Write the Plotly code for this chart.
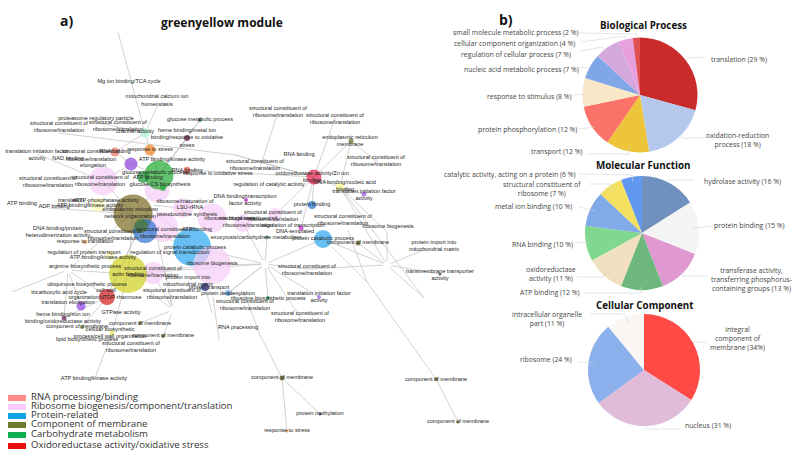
import plotly.graph_objects as go

W, H = 800, 461

# ---------- network: nodes ----------
node_id = ["pk1","pk2","pk3","pk4","pk5","lb","pk7","pk8","ol","gl","gd","gs","bl","pk6","yo","rd","pu","or","sa","mint",
           "yp","yp2","pur2","cr","ma","mag","dpu","dg","pk9","ol2","pk10","pk11","pk12","ye","pur3","bl2","lb2","pk13","mag2","ol3",
           "dk","g2","g3","pur4","pk14","pk15","ol4","nv","or2","ol5","ol6","nv2","lb3","mar","ol7","ol8","ye2","ol9","or3","g4","red2","sa2","sa3"]
node_x = [103,157,212,183,163,192,153,275,133,159,143,163,145,212,128,107,131,150,187,145,
          98,110,81,314,187,246,74,200,376,351,335,260,299,340,364,312,228,243,301,358,
          440,267,268,319,300,307,282,320,287,436,458,205,323,64,82,140,112,163,85,141,238,115,187]
node_y = [181,190,218,208,227,247,273,215,214,175,177,188,231,265,274,297,164,150,170,133,
          205,256,306,177,138,200,200,120,161,141,118,168,155,187,194,205,293,223,228,243,
          274,237,298,297,317,269,378,414,431,379,422,287,239,318,327,323,333,336,242,226,328,152,171]
node_size = [29,25,29,20,30,38,22,14,39,29,12,6,24,38,38,16,13,11,7,10,
             14,10,9,15,6,4,3,4,5,5,3,3,2,8,5,8,6,18,5,5,
             3,3,4,4,2,3,5,3,3,4,3,8,18,5,4,4,5,4,4,14,2,9,7]
node_color = ["#f7cdf7","#f7cdf7","#f7cdf7","#f7cdf7","#f7cdf7","#2aa5f0","#f7cdf7","#f7cdf7","#7a6a20","#1fa82f","#178a30","#1fa82f","#2a70d0","#f7cdf7","#cfcf20","#d61a1a","#8a3fd8","#f5821f","#f07a70","#b0f5d8",
              "#fbfbb5","#fbfbb5","#9040e8","#e8204c","#5a0a3a","#b010b0","#6a20a0","#0e7a44","#f7dcf7","#6a6a20","#f7dcf7","#f7dcf7","#e07070","#ffff90","#9955e6","#1a70d0","#50a0f0","#f7cdf7","#d020d0","#5a5a18",
              "#103040","#108040","#108040","#9955e6","#f7dcf7","#f7dcf7","#5a5a18","#14307a","#f5821f","#5a5a18","#5a5a18","#1a1a80","#2aa5f0","#6a1a50","#5a5a18","#5a5a18","#f0f050","#5a5a18","#f5821f","#4f7a30","#e07070","#f07060","#f07a70"]

# ---------- network: unlabelled junctions ----------
hub_id = ["H1","H2","HC","HL","HB","J1","J2","J3","J4","J5","J6","J7","J8","J9","J10","J11","J12","J13","J14","J15","J16","J17","J18","J19","J20","J21","J22","J23","J24","J25"]
hub_x = [265,387,150,68,173,118,157,96,59,12,95,212,219,367,424,426,277,260,37,49,232,332,348,213,245,387,147,170,235,170]
hub_y = [264,265,205,270,310,32,107,122,133,292,378,313,340,282,298,249,115,335,154,208,157,247,230,297,295,232,290,160,155,298]

edge_from = ["mint","mint","mint","mint","or","or","rd","sa2","pu","pu","gl","gl","J23","sa","cr","J4",
             "J14","J15","dpu","yp","ol","ol","ol","bl","HC","HC","HC","HC",
             "lb","pk6","pk6","pk6","H1","H1","H1","H1","H1","H1","H1","H1",
             "H2","H2","H2","H2","H2","H2","H2","H2","J21",
             "cr","cr","cr","cr","cr","cr","cr","ol2","pk9","ye","ye","J12",
             "J17","J18","J9","ol5","J13","ol4","ol4","J20",
             "HL","HL","HL","HL","HL","HL","yo","yo","yo","rd","rd",
             "HB","HB","HB","HB","J6","J7","J8","lb2","lb2","pk7"]
edge_to = ["J1","J2","J3","sa2","mint","gl","HC","pu","gl","pk1","ma","dg","dg","cr","J24","J24",
           "pk1","ol","ol","ol","pk1","bl","yo","lb","rd","lb","pk4","HB",
           "H1","lb","H1","yo","lb3","pk15","pur4","pk14","g3","lb2","g2","pk13",
           "lb3","ol3","pk15","J11","dk","J10","J21","ye","ye",
           "ol2","pk10","ye","bl2","pk8","mag2","J24","ye","ol2","pur3","J10","pk11",
           "J9","J9","ol5","ol6","ol4","nv","or2","J13",
           "J5","yo","rd","pk2","mar","pur2","H1","ye2","pk7","mar","ol7",
           "J22","ol9","ol8","J25","ye2","nv2","J19","J20","H1","HB"]

# ---------- network: labels ----------
lab_text = [
 "Mg ion binding/TCA cycle","mitochondrial calcium ion<br>homeostasis","proteasome regulatory particle",
 "structural constituent of<br>ribosome/translation","structural constituent of<br>ribosome/translation","channel activity",
 "glucose metabolic process","heme binding/metal ion<br>binding/response to oxidative<br>stress",
 "translation initiation factor<br>activity","structural constituent of<br>ribosome/translation","RNA binding","response to stress",
 "NAD binding","ATP binding/kinase activity","elongation","RNA binding","response to oxidative stress",
 "structural constituent of<br>ribosome/translation","structural constituent of<br>ribosome/translation",
 "glucose metabolic process","ATP binding","glucose CS biosynthesis","ATP binding","ADP binding","PTP-phosphatase activity",
 "ATP binding/kinase activity","translation","ribosome/maturation of","LSU-rRNA","pseudouridine synthesis",
 "endoplasmic reticulum<br>network organization","ribosome biogenesis","structural constituent of<br>ribosome/translation",
 "ATP binding","DNA binding/protein<br>heterodimerization activity","response to translation","regulation of protein transport",
 "ATP binding/kinase activity","regulation of signal transduction","arginine biosynthetic process","actin binding",
 "structural constituent of<br>ribosome/translation","protein import into<br>mitochondrial matrix","ribosome biogenesis",
 "protein catabolic process","exocytosis/carbohydrate metabolism","ubiquinone biosynthetic process","tricarboxylic acid cycle",
 "organization/dTDP-rhamnose","cell wall","translation elongation","structural constituent of<br>ribosome/translation",
 "protein transport","protein deadenylation","structural constituent of<br>ribosome/translation","ribosome biosynthetic process",
 "heme binding/iron ion","binding/oxidoreductase activity","component of membrane","GTPase activity","component of membrane",
 "cellular biosynthetic<br>process/cell wall organization","lipid biosynthetic process","component of membrane",
 "structural constituent of<br>ribosome/translation","RNA processing","ATP binding/kinase activity",
 "protein catabolic process","component of membrane","protein import into<br>mitochondrial matrix",
 "transmembrane transporter<br>activity","structural constituent of<br>ribosome/translation",
 "translation initiation factor<br>activity","structural constituent of<br>ribosome/translation","component of membrane",
 "protein methylation","response to stress","component of membrane","component of membrane","DNA-templated",
 "structural constituent of<br>ribosome/translation","structural constituent of<br>ribosome/translation",
 "endoplasmic reticulum<br>membrane","structural constituent of<br>ribosome/translation","RNA binding",
 "structural constituent of<br>ribosome/translation","oxidoreductase activity/Zn ion<br>binding","regulation of catalytic activity",
 "RNA binding/nucleic acid<br>binding","translation initiation factor<br>activity","protein binding",
 "DNA binding/transcription<br>factor activity","structural constituent of<br>ribosome/translation",
 "structural constituent of<br>ribosome/translation","regulation of transcription","ribosome biogenesis",
 "structural constituent of<br>ribosome/translation","structural constituent of<br>ribosome/translation",
]
lab_x = [129,157,96,59,118,135,200,187,37,91,115,150,68,172,93,187,218,48,100,155,148,160,22,54,107,90,71,185,190,187,130,230,248,197,58,85,84,103,170,85,128,153,188,212,195,256,87,59,105,106,68,172,209,228,245,268,63,63,77,121,140,110,87,163,131,238,94,323,358,434,440,307,319,300,282,320,287,436,458,295,335,278,350,376,299,255,312,269,345,364,312,245,343,273,293,388,113,165]
lab_y = [82,100.5,119,127,126,132,120,138,155,155.5,152,150,159,160,166,171,174,182,181,173,178,185,204,207,201,206,201,202,208,215,213,219,222,230,232,242,253,258,253,267,275,272,281,264,248,238,285,293,298,291,303,294,288,294,305,299,315,322,327,313,324,333,340,336,347,328,379,239,243,246,275,270,297,317,378,414,431,380,422,232,119,112,141,161,155,165,177,185,186,195,205,200,220,216,226,227,235,233]

# ---------- legend ----------
legend_text = ["RNA processing/binding","Ribosome biogenesis/component/translation","Protein-related",
               "Component of membrane","Carbohydrate metabolism","Oxidoreductase activity/oxidative stress"]
legend_color = ["#ff8a8a","#ffccff","#0ca4e4","#6f7a28","#10b050","#ee1010"]
legend_y = [398,407,416,425,435,446]

# ---------- pies ----------
bp_labels = ["translation","oxidation-reduction process","transport","protein phosphorylation","response to stimulus",
             "nucleic acid metabolic process","regulation of cellular process","cellular component organization","small molecule metabolic process"]
bp_values = [29,18,12,12,8,7,7,4,2]
bp_colors = ["#c92a2a","#b4c8ec","#ecc53a","#fb7268","#f8e8c8","#7fa6e6","#d4a8dc","#e8a0dc","#e05050"]
mf_labels = ["hydrolase activity","protein binding","transferase activity","ATP binding","oxidoreductase activity","RNA binding",
             "metal ion binding","structural constituent of ribosome","catalytic activity"]
mf_values = [16,15,13,12,11,10,10,7,6]
mf_colors = ["#7090bf","#f4f4f4","#e098d0","#6eb87e","#f0e0c0","#80d890","#80aae8","#f4e060","#6098f0"]
cc_labels = ["integral component of membrane","nucleus","ribosome","intracellular organelle part"]
cc_values = [34,31,24,11]
cc_colors = ["#ff4a45","#e0bcd8","#8cb0ec","#faf6f4"]

pie_text = ["translation (29 %)","oxidation-reduction<br>process (18 %)","transport (12 %)","protein phosphorylation (12 %)",
            "response to stimulus (8 %)","nucleic acid metabolic process (7 %)","regulation of cellular process (7 %)",
            "cellular component organization (4 %)","small molecule metabolic process (2 %)",
            "hydrolase activity (16 %)","protein binding (15 %)","transferase activity,<br>transferring phosphorus-<br>containing groups (13 %)",
            "ATP binding (12 %)","oxidoreductase<br>activity (11 %)","RNA binding (10 %)","metal ion binding (10 %)",
            "structural constituent of<br>ribosome (7 %)","catalytic activity, acting on a protein (6 %)",
            "integral<br>component of<br>membrane (34%)","nucleus (31 %)","ribosome (24 %)","intracellular organelle<br>part (11 %)"]
pie_tx = [739,737,556,527,529,521,516,514.5,515,
          742,749,751,549,551,542,533,542,510,
          737,708,546,547]
pie_ty = [59,140,151,129,96,69,54,43,32,
          181,225,279,292,274,244,206,189,174,
          338,425,359,319]
# leader lines: start, elbow, end
lead_x0 = [704,706,587,579,573,580,580,581,579, 694,713,708,583,577,575,579,589,578, 707,680,578,590]
lead_y0 = [57,138,154,129,95,67,51,42,33, 180,226,276,293,277,243,207,184,174, 342,429,362,314]
lead_xm = [687,682,629,595,588,589,603,625,637, 667,693,683,641,603,590,595,610,632, 693,646,594,625]
lead_ym = [58,138,154,127,94,68,47,36,34, 180,228,276,293,277,242,211,184,175, 342,429,363,314]
lead_x1 = [687,676,629,595,588,589,607,627,637, 667,693,678,641,607,590,595,613,633, 693,646,594,628]
lead_y1 = [58,132,147,127,94,68,53,43,38, 180,228,270,287,272,242,211,191,182, 342,420,363,323]

fig = go.Figure()

# edges
pos = {i: (x, y) for i, x, y in zip(node_id + hub_id, node_x + hub_x, node_y + hub_y)}
ex, ey = [], []
for a, b in zip(edge_from, edge_to):
    ex += [pos[a][0], pos[b][0], None]
    ey += [pos[a][1], pos[b][1], None]
fig.add_trace(go.Scatter(x=ex, y=ey, mode="lines", line=dict(color="#c6c6c6", width=0.8), hoverinfo="skip"))

# hub blobs
fig.add_trace(go.Scatter(x=hub_x[:5], y=hub_y[:5], mode="markers",
                         marker=dict(size=8, color="#ffffff", line=dict(width=0)), hoverinfo="skip"))
# nodes
fig.add_trace(go.Scatter(x=node_x, y=node_y, mode="markers",
                         marker=dict(size=node_size, color=node_color, line=dict(width=0)), hoverinfo="skip"))
# labels
fig.add_trace(go.Scatter(x=lab_x, y=lab_y, mode="text", text=lab_text, textposition="middle center",
                         textfont=dict(family="Liberation Sans", size=5.6, color="#222222"), hoverinfo="skip"))

# legend text
fig.add_trace(go.Scatter(x=[31] * len(legend_text), y=legend_y, mode="text", text=legend_text, textposition="middle right",
                         textfont=dict(family="Open Sans", size=9.6, color="#333333"), hoverinfo="skip"))

shapes = []
for c, y in zip(legend_color, legend_y):
    shapes.append(dict(type="rect", xref="x", yref="y", x0=8, x1=26, y0=y - 3, y1=y + 3, fillcolor=c, line=dict(width=0)))
for x0, y0, xm, ym, x1, y1 in zip(lead_x0, lead_y0, lead_xm, lead_ym, lead_x1, lead_y1):
    shapes.append(dict(type="path", xref="x", yref="y", layer="above",
                       path="M %g %g L %g %g L %g %g" % (x0, y0, xm, ym, x1, y1),
                       line=dict(color="#d4d4d4", width=0.6)))

# pies
def add_pie(labels, values, colors, cx, cy, r):
    fig.add_trace(go.Pie(labels=labels, values=values, sort=False, direction="clockwise", rotation=0,
                         marker=dict(colors=colors, line=dict(width=0)), textinfo="none", hoverinfo="skip",
                         domain=dict(x=[(cx - r) / W, (cx + r) / W], y=[1 - (cy + r) / H, 1 - (cy - r) / H])))

add_pie(bp_labels, bp_values, bp_colors, 640, 95, 57.5)
add_pie(mf_labels, mf_values, mf_colors, 642, 233, 57)
add_pie(cc_labels, cc_values, cc_colors, 644, 370, 56)

# pie labels
annots = []
for t, x, y in zip(pie_text, pie_tx, pie_ty):
    annots.append(dict(x=x, y=y, xref="x", yref="y", text=t, showarrow=False, align="center",
                       font=dict(family="Open Sans", size=6.9, color="#444444")))

# titles
title_text = ["greenyellow module", "a)", "b)", "Biological Process", "Molecular Function", "Cellular Component"]
title_x = [222, 66, 506, 643, 643, 644]
title_y = [22, 20, 19, 25, 165, 305]
title_size = [12, 14, 14, 9.8, 9.8, 9.8]
for t, x, y, s in zip(title_text, title_x, title_y, title_size):
    annots.append(dict(x=x, y=y, xref="x", yref="y", text="<b>%s</b>" % t, showarrow=False,
                       font=dict(family="Open Sans", size=s, color="#111111")))

fig.update_layout(
    width=W, height=H, margin=dict(l=0, r=0, t=0, b=0), showlegend=False,
    paper_bgcolor="white", plot_bgcolor="white", shapes=shapes, annotations=annots,
    xaxis=dict(range=[0, W], visible=False, fixedrange=True),
    yaxis=dict(range=[H, 0], visible=False, fixedrange=True),
)
fig.write_html("out.html", config={"displayModeBar": False},
               post_script="document.body.style.margin='0';document.documentElement.style.overflow='hidden';")
